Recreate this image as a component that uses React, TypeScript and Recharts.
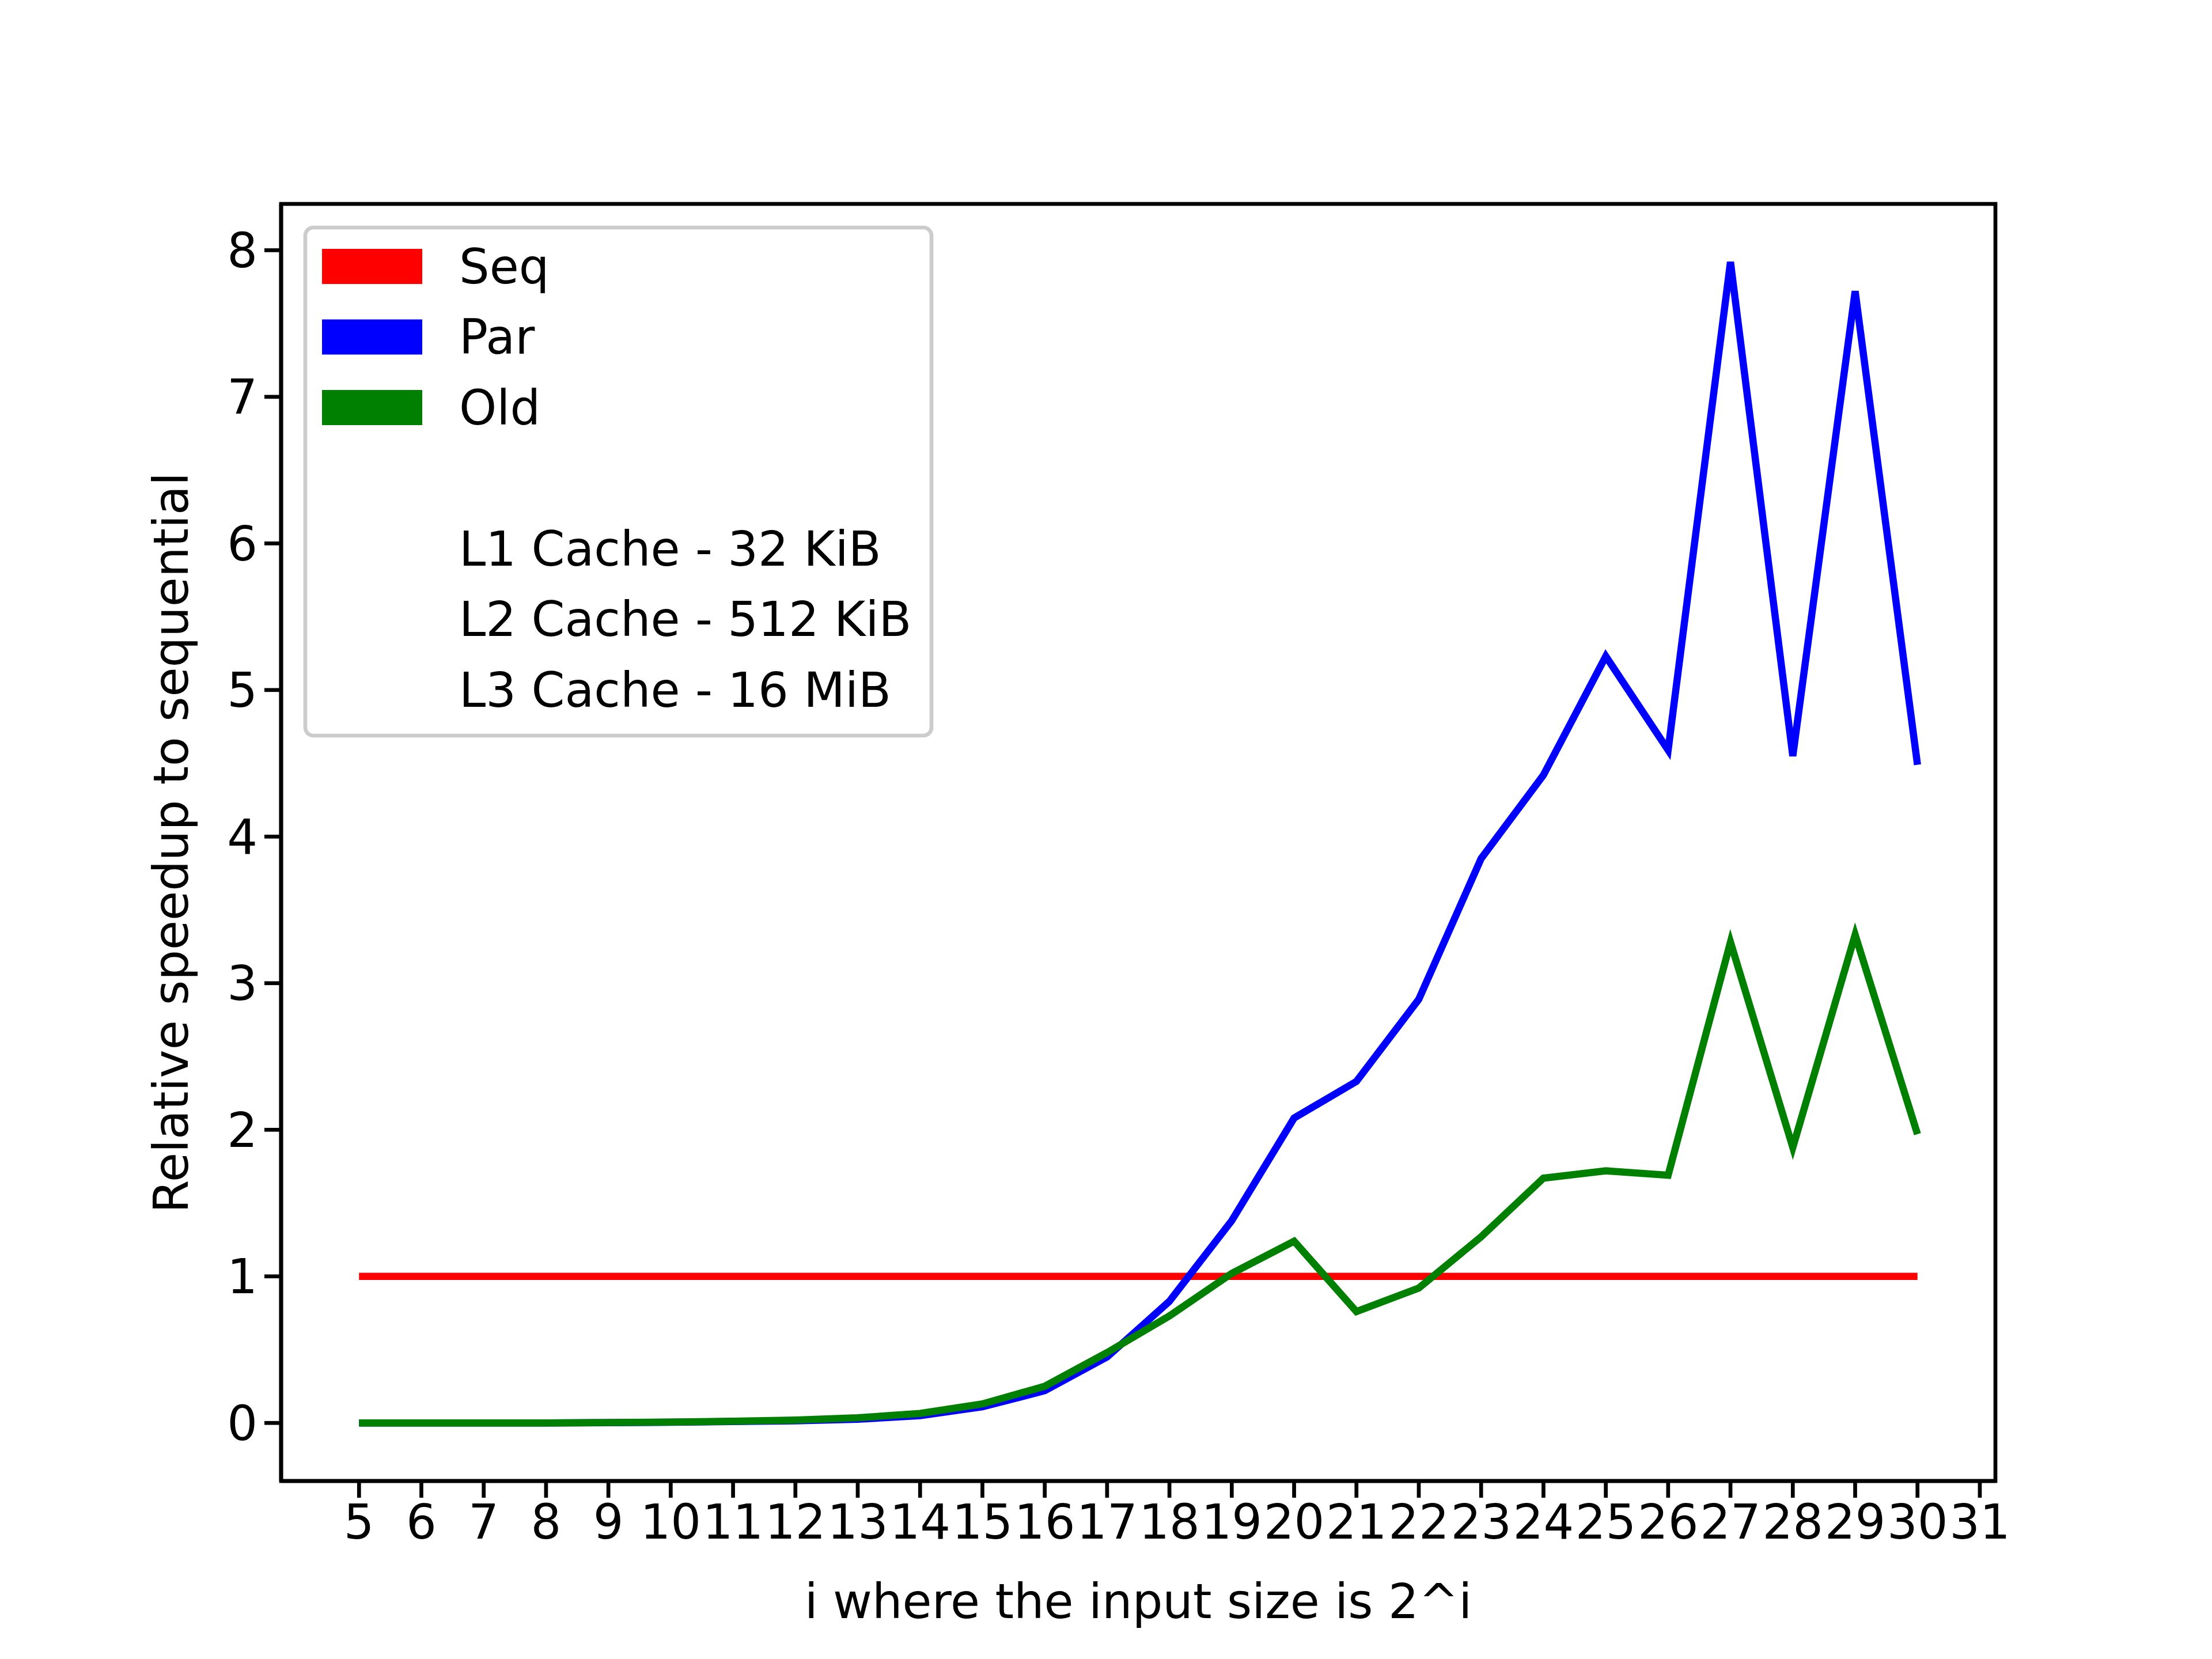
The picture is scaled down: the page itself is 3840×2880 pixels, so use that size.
import React from 'react';
import { LineChart, Line, XAxis, YAxis, Customized } from 'recharts';

const xs = [5,6,7,8,9,10,11,12,13,14,15,16,17,18,19,20,21,22,23,24,25,26,27,28,29,30];
const seq = xs.map(() => 1);
const par = [0,0,0,0,0.002,0.005,0.01,0.015,0.025,0.05,0.11,0.22,0.45,0.83,1.38,2.08,2.33,2.89,3.85,4.42,5.23,4.59,7.92,4.55,7.72,4.49];
const old = [0,0,0,0,0.003,0.006,0.012,0.02,0.035,0.065,0.13,0.25,0.48,0.73,1.02,1.24,0.76,0.92,1.27,1.67,1.72,1.69,3.28,1.88,3.33,1.97];
const xTicks = [5,6,7,8,9,10,11,12,13,14,15,16,17,18,19,20,21,22,23,24,25,26,27,28,29,30,31];
const yTicks = [0,1,2,3,4,5,6,7,8];
const legendSeries = [{ name: 'Seq', color: '#ff0000' }, { name: 'Par', color: '#0000ff' }, { name: 'Old', color: '#008000' }];
const legendNotes = ['L1 Cache - 32 KiB', 'L2 Cache - 512 KiB', 'L3 Cache - 16 MiB'];

const data = xs.map((x, i) => ({ x, seq: seq[i], par: par[i], old: old[i] }));

const FONT = 'DejaVu Sans';
const FS = 83;

const Overlay = () => (
  <g fontFamily={FONT} fontSize={FS} fill="#000">
    <rect x={480} y={346} width={2976} height={2217} fill="none" stroke="#000" strokeWidth={6.7} />
    <text x={289} y={1455} textAnchor="middle" dominantBaseline="central" transform="rotate(-90 289 1455)">Relative speedup to sequential</text>
    <text x={1968} y={2772} textAnchor="middle" dominantBaseline="central">i where the input size is 2^i</text>
    <rect x={522} y={387} width={1087} height={882} rx={14} fill="#fff" fillOpacity={0.8} stroke="#cccccc" strokeWidth={6.7} />
    {legendSeries.map((s, i) => (
      <g key={s.name}>
        <rect x={551} y={424 + i * 122.5} width={174} height={61} fill={s.color} />
        <text x={789} y={455 + i * 122.5} dominantBaseline="central">{s.name}</text>
      </g>
    ))}
    {legendNotes.map((t, i) => (
      <text key={t} x={789} y={945 + i * 122.5} dominantBaseline="central">{t}</text>
    ))}
  </g>
);

export default function App() {
  return (
    <div style={{ width: 3840, height: 2880, background: '#fff' }}>
      <LineChart width={3840} height={2880} data={data} margin={{ top: 346, right: 384, bottom: 117, left: 280 }}>
        <XAxis dataKey="x" type="number" domain={[3.75, 31.25]} ticks={xTicks} interval={0} allowDataOverflow
          height={200} stroke="#000" strokeWidth={6.7} tickSize={29} tickMargin={12}
          tick={{ fontFamily: FONT, fontSize: FS, fill: '#000' }} />
        <YAxis type="number" domain={[-0.396, 8.316]} ticks={yTicks} interval={0} allowDataOverflow
          width={200} stroke="#000" strokeWidth={6.7} tickSize={29} tickMargin={12}
          tick={{ fontFamily: FONT, fontSize: FS, fill: '#000' }} />
        <Line dataKey="seq" stroke="#ff0000" strokeWidth={12.5} dot={false} isAnimationActive={false} />
        <Line dataKey="par" stroke="#0000ff" strokeWidth={12.5} dot={false} isAnimationActive={false} />
        <Line dataKey="old" stroke="#008000" strokeWidth={12.5} dot={false} isAnimationActive={false} />
        <Customized component={Overlay} />
      </LineChart>
    </div>
  );
}
